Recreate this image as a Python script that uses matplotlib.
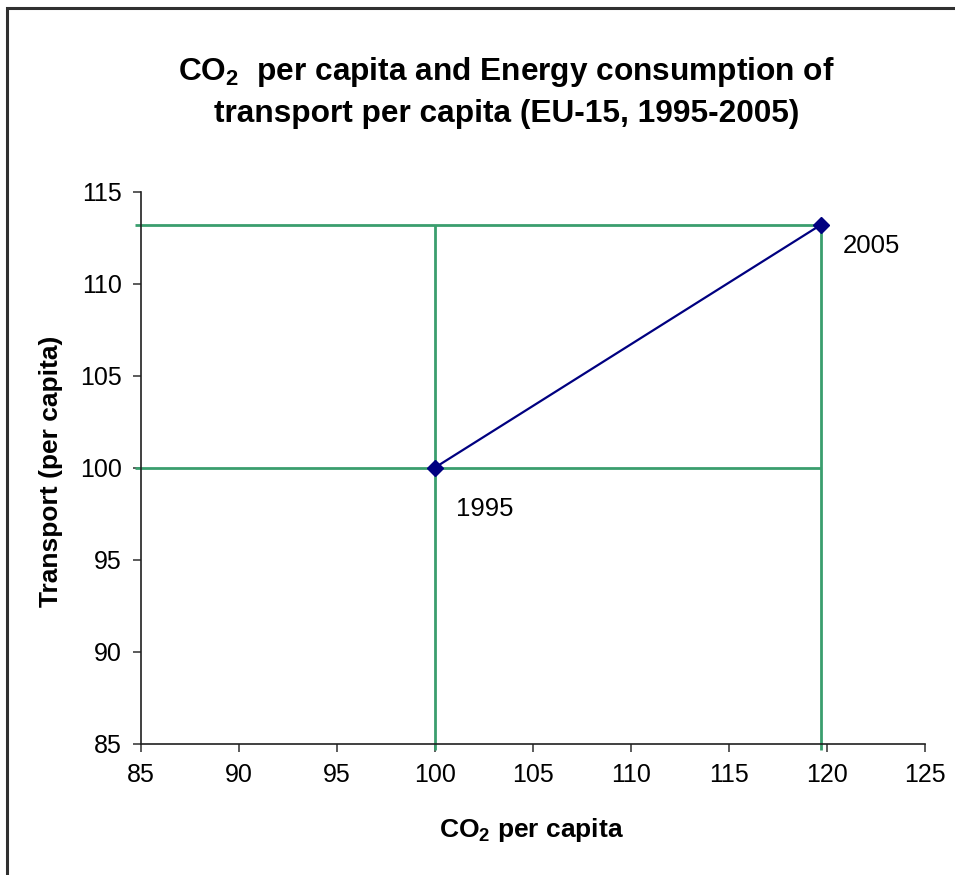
import matplotlib
matplotlib.use("Agg")
import matplotlib.pyplot as plt
from matplotlib.patches import Rectangle

plt.rcParams["font.family"] = ["Liberation Sans", "DejaVu Sans"]
plt.rcParams["mathtext.fontset"] = "custom"
plt.rcParams["mathtext.rm"] = "Liberation Sans"
plt.rcParams["mathtext.bf"] = "Liberation Sans:bold"
plt.rcParams["mathtext.it"] = "Liberation Sans:italic"

# Index values (1995 = 100)
years = ["1995", "2005"]
co2_per_capita = [100.0, 119.7]
transport_per_capita = [100.0, 113.2]

x_ticks = [85, 90, 95, 100, 105, 110, 115, 120, 125]
y_ticks = [85, 90, 95, 100, 105, 110, 115]

fig = plt.figure(figsize=(9.55, 8.75), dpi=100)
ax = fig.add_axes([0.1473, 0.15, 0.8210, 0.6309])

xmin, xmax = x_ticks[0], x_ticks[-1]
ymin, ymax = y_ticks[0], y_ticks[-1]
ax.set_xlim(xmin, xmax)
ax.set_ylim(ymin, ymax)

green = "#3a9e6e"
navy = "#000080"

# Reference lines from each point back to the axes
x_top = max(co2_per_capita)
y_top = max(transport_per_capita)
ext_x = 0.3
ext_y = 0.35
for xv, yv in zip(co2_per_capita, transport_per_capita):
    ax.plot([xmin - ext_x, x_top], [yv, yv], color=green, lw=2.0,
            clip_on=False, zorder=2, solid_capstyle="butt")
    ax.plot([xv, xv], [ymin - ext_y, y_top], color=green, lw=2.0,
            clip_on=False, zorder=2, solid_capstyle="butt")

ax.plot(co2_per_capita, transport_per_capita, color=navy, lw=1.6,
        marker="D", markersize=8, markerfacecolor=navy,
        markeredgecolor=navy, zorder=4, clip_on=False)

label_offsets = [(15, -30), (16, -15)]
for xv, yv, yr, off in zip(co2_per_capita, transport_per_capita, years, label_offsets):
    ax.annotate(yr, (xv, yv), xytext=off, textcoords="offset points",
                ha="left", va="center", fontsize=18.5, color="black")

ax.set_xticks(x_ticks)
ax.set_yticks(y_ticks)
ax.tick_params(axis="both", labelsize=18, length=5.5, width=1.2,
               color="#404040", direction="out")
ax.tick_params(axis="x", pad=8.5)
ax.tick_params(axis="y", pad=8)

for side in ("top", "right"):
    ax.spines[side].set_visible(False)
for side in ("left", "bottom"):
    ax.spines[side].set_linewidth(1.2)
    ax.spines[side].set_color("#202020")

ax.set_xlabel(r"$\mathbf{CO_2}$ per capita", fontsize=19, fontweight="bold")
ax.set_ylabel("Transport (per capita)", fontsize=19, fontweight="bold")
ax.xaxis.label.set_va("center")
ax.yaxis.label.set_va("center")
ax.xaxis.set_label_coords(0.4985, -0.156)
ax.yaxis.set_label_coords(-0.1144, 0.493)

fig.text(0.530, 1 - 72 / 875, r"$\mathbf{CO_2}$  per capita and Energy consumption of",
         ha="center", va="center", fontsize=22.8, fontweight="bold")
fig.text(0.531, 1 - 114 / 875, "transport per capita (EU-15, 1995-2005)",
         ha="center", va="center", fontsize=22.8, fontweight="bold")

# Chart frame
fig.patches.append(Rectangle((7 / 955, -0.1), 1.2, 1 - 8 / 875 + 0.1,
                             transform=fig.transFigure, fill=False,
                             edgecolor="#303030", linewidth=2.2))

fig.savefig("out.png", dpi=100)
